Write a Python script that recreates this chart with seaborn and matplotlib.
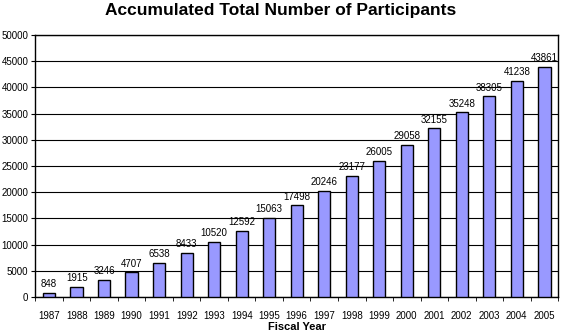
import numpy as np
import pandas as pd
import matplotlib
matplotlib.use("Agg")
import matplotlib.pyplot as plt
import seaborn as sns

years = ["1987", "1988", "1989", "1990", "1991", "1992", "1993", "1994", "1995", "1996",
         "1997", "1998", "1999", "2000", "2001", "2002", "2003", "2004", "2005"]
participants = [848, 1915, 3246, 4707, 6538, 8433, 10520, 12592, 15063, 17498,
                20246, 23177, 26005, 29058, 32155, 35248, 38305, 41238, 43861]

df = pd.DataFrame({"year": years, "total": participants})

sns.set_style("white")
plt.rcParams["font.family"] = ["Liberation Sans", "DejaVu Sans"]
plt.rcParams["text.color"] = "black"
plt.rcParams["xtick.color"] = "black"
plt.rcParams["ytick.color"] = "black"
plt.rcParams["axes.labelcolor"] = "black"

fig = plt.figure(figsize=(5.62, 3.36), dpi=100)
ax = fig.add_axes([0.063, 0.116, 0.93, 0.78])

sns.barplot(data=df, x="year", y="total", color="#9999FF", saturation=1,
            width=0.45, edgecolor="black", linewidth=1.0, ax=ax, zorder=3)

for i, v in enumerate(participants):
    ax.text(i, v + 700, str(v), ha="center", va="bottom", fontsize=7, color="black")

ax.set_ylim(0, 50000)
ax.set_xlim(-0.5, len(years) - 0.5)
ax.set_yticks(np.arange(0, 50001, 5000))
ax.yaxis.grid(True, color="black", linewidth=0.8, zorder=0)
ax.set_axisbelow(True)
ax.tick_params(axis="y", labelsize=7, length=3, direction="out", left=True, pad=2)
ax.tick_params(axis="x", labelsize=7, length=0, pad=10)
ax.set_xticks(np.arange(-0.5, len(years), 1), minor=True)
ax.tick_params(axis="x", which="minor", length=3, direction="out", bottom=True)
for s in ax.spines.values():
    s.set_color("black")
    s.set_linewidth(1.0)

ax.set_xlabel("Fiscal Year", fontsize=8, fontweight="bold", labelpad=1)
ax.set_ylabel("")
fig.text(0.5, 1 - 11 / 336, "Accumulated Total Number of Participants",
         ha="center", va="center", fontsize=12.5, fontweight="bold", color="black")

fig.savefig("out.png", dpi=100)
